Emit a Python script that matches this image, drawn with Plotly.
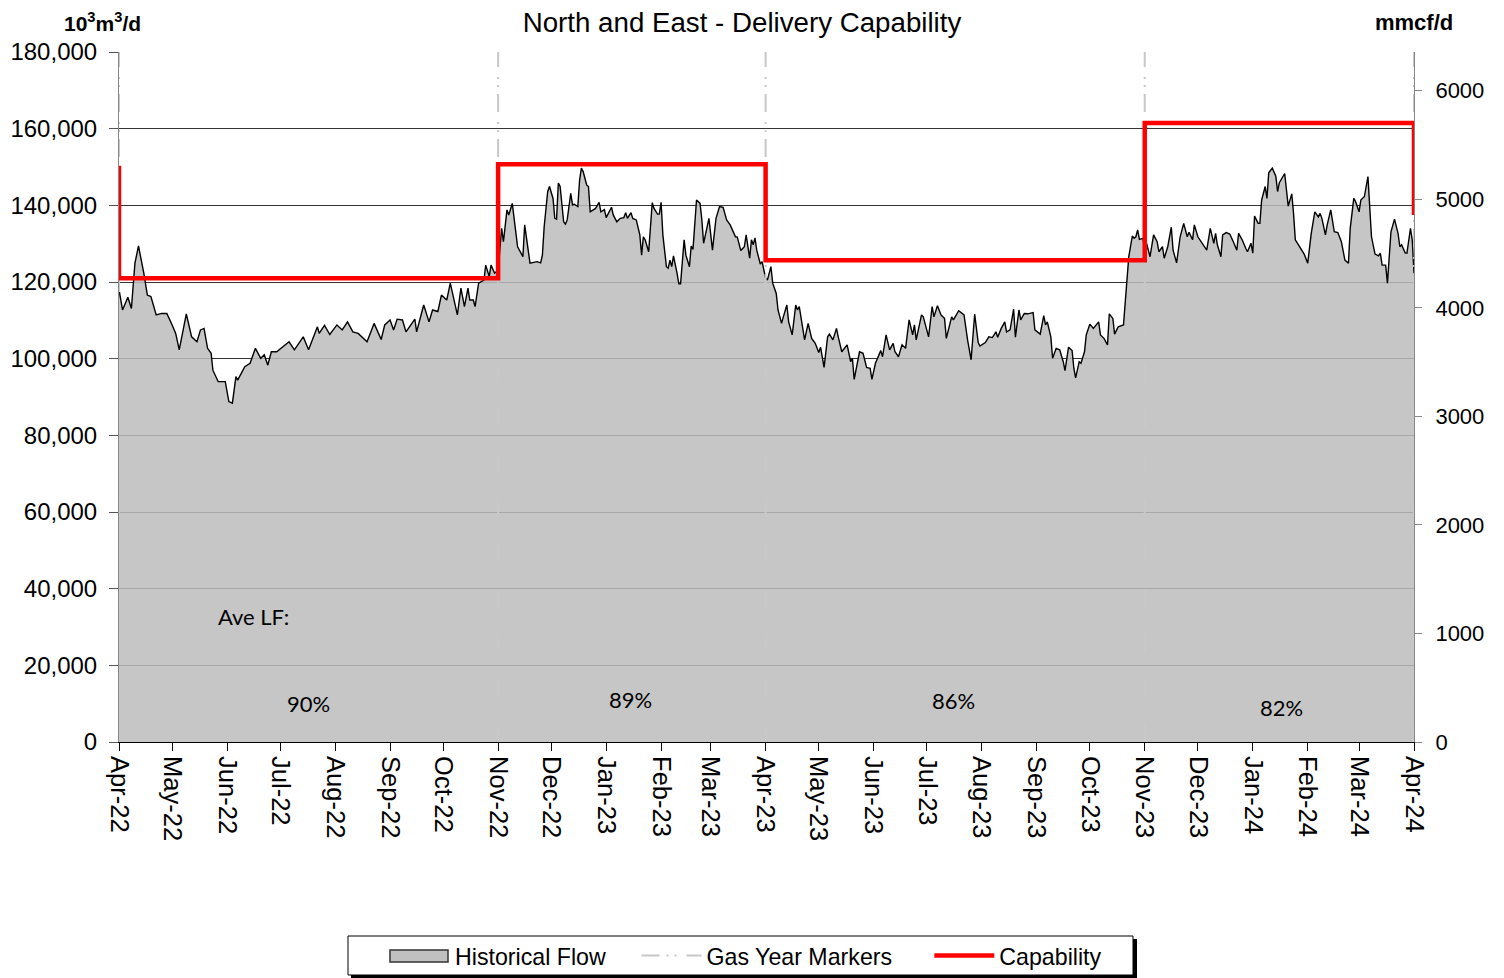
import pandas as pd
import plotly.graph_objects as go

# ---------------- data ----------------
flow_day = [0, 2, 5, 7, 9, 11, 14, 16, 18, 21, 24, 27, 30, 32, 34, 38, 41, 44, 46, 48,
            50, 52, 53, 56, 60, 62, 64, 66, 67, 71, 74, 77, 80, 82, 84, 86, 89, 96, 99, 104,
            107, 112, 113, 116, 119, 123, 126, 129, 132, 135, 140, 144, 148, 150, 153, 155, 157, 160, 162, 167,
            168, 172, 175, 177, 180, 182, 185, 187, 191, 193, 195, 197, 198, 200, 201, 203, 206, 207, 209, 210,
            212, 214, 216, 217, 219, 220, 222, 225, 228, 229, 232, 236, 238, 239, 240, 242, 243, 245, 246, 247,
            248, 249, 251, 252, 253, 255, 256, 257, 259, 260, 261, 262, 264, 265, 266, 269, 271, 272, 274, 275,
            278, 279, 281, 283, 285, 286, 287, 289, 290, 292, 294, 295, 296, 297, 299, 300, 301, 302, 304, 305,
            306, 307, 309, 310, 311, 312, 313, 315, 316, 317, 319, 320, 322, 323, 324, 326, 328, 329, 330, 333,
            335, 337, 339, 341, 343, 345, 348, 349, 351, 353, 354, 356, 357, 358, 359, 360, 362, 363, 365, 366,
            368, 369, 371, 372, 374, 375, 377, 378, 380, 382, 383, 384, 387, 389, 391, 393, 395, 396, 398, 400,
            401, 403, 405, 406, 408, 411, 413, 414, 415, 418, 420, 422, 424, 425, 427, 430, 431, 433, 435, 437,
            438, 440, 442, 444, 446, 448, 449, 450, 453, 454, 457, 459, 460, 462, 464, 466, 467, 470, 471, 474,
            477, 479, 481, 483, 485, 486, 489, 491, 493, 495, 496, 498, 500, 501, 503, 505, 506, 508, 509, 511,
            513, 516, 517, 520, 522, 523, 524, 526, 527, 529, 531, 533, 534, 536, 538, 539, 540, 542, 543, 545,
            546, 548, 550, 553, 554, 556, 558, 559, 561, 562, 564, 567, 568, 569, 570, 572, 573, 574, 575, 576,
            578, 579, 580, 582, 584, 586, 587, 589, 590, 592, 594, 595, 597, 599, 601, 603, 604, 606, 607, 609,
            611, 614, 616, 618, 619, 620, 622, 623, 625, 627, 629, 631, 632, 634, 636, 637, 639, 640, 641, 643,
            644, 645, 647, 648, 649, 650, 651, 653, 654, 655, 658, 660, 662, 663, 664, 667, 669, 671, 673, 675,
            677, 678, 679, 681, 682, 684, 686, 688, 690, 692, 694, 695, 697, 698, 700, 701, 703, 705, 706, 707,
            709, 711, 712, 713, 715, 716, 718, 720, 722, 723, 724, 726, 727, 729, 730, 731]

flow_val = [118000, 112700, 116000, 113100, 124900, 129400, 122300, 116600, 116200, 111400, 111800, 111800, 108800, 106600, 102300, 111700, 105700, 104400, 107500, 107900,
            102700, 101400, 97000, 94000, 94000, 88800, 88400, 95300, 94400, 97900, 98800, 102700, 100100, 101000, 98300, 101800, 101800, 104400, 102300, 105700,
            102300, 108300, 106600, 108700, 106300, 108800, 107500, 109600, 107000, 106600, 104400, 109200, 105000, 108800, 110100, 107500, 110300, 110100, 107000, 110300,
            107000, 114000, 109600, 112700, 112300, 116600, 115300, 119700, 111400, 118400, 113600, 118400, 115300, 115300, 113600, 119700, 120500, 124400, 121400, 124400,
            122300, 123100, 134000, 130500, 138800, 137500, 140500, 129200, 126600, 134900, 124900, 125300, 125000, 127000, 134400, 143600, 144900, 141800, 136600, 136400,
            145800, 144900, 135700, 135100, 136200, 143100, 140100, 140300, 139700, 146600, 149700, 148800, 145300, 144900, 138300, 139200, 140800, 138300, 138900, 136800,
            139500, 137500, 135700, 136600, 136800, 138100, 136600, 138100, 136600, 136200, 132300, 127000, 131800, 131000, 127900, 134400, 140700, 139200, 137700, 137700,
            140800, 132300, 124000, 123600, 125700, 124000, 126800, 122300, 119500, 119500, 131000, 127000, 124000, 129400, 128500, 141400, 140500, 136200, 130100, 136600,
            128300, 136600, 139700, 139500, 136200, 134900, 131800, 131700, 128200, 129200, 132300, 126200, 131000, 129700, 131500, 128300, 124700, 125300, 121000, 120500,
            124000, 119700, 117000, 112700, 109200, 110900, 114000, 109600, 106200, 114000, 112700, 113600, 104900, 109200, 105300, 104000, 101600, 103000, 97700, 105700,
            106400, 104900, 107900, 105700, 101800, 103600, 99200, 100100, 94600, 101800, 101400, 97700, 97500, 94600, 98800, 102100, 100500, 106200, 102300, 104000,
            101800, 100500, 103600, 102700, 110100, 106200, 108800, 104900, 111400, 110900, 105700, 113600, 110900, 113800, 111400, 110500, 105300, 110900, 110100, 112500,
            111400, 104900, 99700, 111600, 104200, 103300, 104200, 105700, 105500, 107000, 105600, 107900, 109600, 107000, 107500, 112900, 105600, 112700, 110100, 111800,
            111700, 112000, 107500, 106400, 111200, 108800, 109600, 105700, 100100, 102700, 102300, 99200, 96900, 103000, 102100, 97500, 95000, 99200, 98800, 101800,
            106200, 109000, 107900, 109600, 106200, 105300, 103600, 111700, 110500, 106400, 108300, 108800, 114900, 119700, 126600, 132000, 131400, 131800, 133600, 131100,
            131400, 128300, 130100, 126600, 132300, 130500, 127900, 129200, 126200, 129200, 134300, 128300, 125000, 131800, 135300, 131800, 133000, 131000, 134900, 131800,
            130500, 128300, 134000, 130100, 132700, 129700, 126600, 132300, 132900, 132500, 130500, 128300, 132700, 131000, 128800, 127900, 130100, 127500, 137200, 135300,
            135300, 141400, 144900, 141800, 148500, 149000, 149700, 147600, 143600, 145900, 148300, 139800, 143000, 137900, 131000, 128800, 127300, 124900, 132700, 138300,
            137000, 137900, 136600, 132300, 134900, 138800, 133100, 132900, 130500, 125700, 124900, 134000, 141800, 141000, 138300, 141400, 142300, 147500, 139700, 131800,
            127300, 126800, 127500, 124400, 124400, 119700, 133100, 136400, 132700, 129200, 129700, 127600, 127500, 134000, 131000, 122300]

start_date = "2022-04-01"

cap_dates = ["2022-04-01", "2022-04-01", "2022-11-01", "2023-04-01", "2023-11-01", "2024-04-01"]
cap_vals = [150300, 121000, 150700, 125700, 161500, 137500]

gas_year_dates = ["2022-04-01", "2022-11-01", "2023-04-01", "2023-11-01", "2024-04-01"]

lf_labels = ["90%", "89%", "86%", "82%"]
lf_dates = ["2022-07-17", "2023-01-15", "2023-07-16", "2024-01-17"]
lf_y = [10170, 10960, 10700, 9130]

M3_PER_MCF = 28.3168
Y_MAX = 180000

# ---------------- helpers: page pixel -> paper coords ----------------
PX0, PX1, PY0, PY1 = 119, 1414, 52, 742   # plot area in page pixels


def pxx(p):
    return (p - PX0) / (PX1 - PX0)


def pxy(p):
    return (PY1 - p) / (PY1 - PY0)


# ---------------- figure ----------------
flow_dates = pd.Timestamp(start_date) + pd.to_timedelta(flow_day, unit="D")
FILL = "rgba(188,188,188,0.853)"

fig = go.Figure()

fig.add_trace(go.Scatter(
    x=flow_dates, y=flow_val, mode="lines", name="Historical Flow",
    line=dict(color="black", width=1.4),
    fill="tozeroy", fillcolor=FILL, showlegend=False,
))
# legend entry for the area (symbol drawn as a shape below)
fig.add_trace(go.Scatter(
    x=[None], y=[None], mode="lines", name="Historical Flow" + "\u00a0" * 4,
    line=dict(color="rgba(0,0,0,0)", width=1), hoverinfo="skip",
))

gx, gy = [], []
for d in gas_year_dates:
    gx += [d, d, None]
    gy += [0, Y_MAX, None]
fig.add_trace(go.Scatter(
    x=gx, y=gy, mode="lines", name="Gas Year Markers" + "\u00a0" * 5,
    line=dict(color="#c8c8c8", width=2, dash="18px,7px,2px,6px,2px,10px"),
))

fig.add_trace(go.Scatter(
    x=cap_dates, y=cap_vals, mode="lines", name="Capability",
    line=dict(color="#ff0000", width=4.5, shape="hv"),
))

# invisible trace for the right axis
fig.add_trace(go.Scatter(x=[start_date], y=[0], yaxis="y2", mode="markers",
                         marker=dict(opacity=0), showlegend=False, hoverinfo="skip"))

for lbl, d, yv in zip(lf_labels, lf_dates, lf_y):
    fig.add_annotation(x=d, y=yv, text=lbl, showarrow=False,
                       font=dict(family="Lato", size=22, color="black"))
fig.add_annotation(x="2022-06-16", y=32870, text="Ave LF:", showarrow=False,
                   xanchor="center", font=dict(family="Lato", size=22, color="black"))

fig.add_annotation(xref="paper", yref="paper", x=pxx(102), y=pxy(22),
                   xanchor="center", yanchor="middle",
                   text="<b>10<sup>3</sup>m<sup>3</sup>/d</b>", showarrow=False,
                   font=dict(family="Liberation Sans", size=21, color="black"))
fig.add_annotation(xref="paper", yref="paper", x=pxx(1414), y=pxy(22),
                   xanchor="center", yanchor="middle",
                   text="<b>mmcf/d</b>", showarrow=False,
                   font=dict(family="Liberation Sans", size=22, color="black"))

# legend frame with shadow
fig.add_shape(type="rect", xref="paper", yref="paper",
              x0=pxx(351), x1=pxx(1137), y0=pxy(978), y1=pxy(939),
              fillcolor="black", line=dict(width=0), layer="above")
fig.add_shape(type="rect", xref="paper", yref="paper",
              x0=pxx(348), x1=pxx(1133), y0=pxy(975), y1=pxy(936),
              fillcolor="white", line=dict(color="black", width=1), layer="above")
# legend symbol for the historical flow area
fig.add_shape(type="rect", xref="paper", yref="paper",
              x0=pxx(390), x1=pxx(448), y0=pxy(962), y1=pxy(950),
              fillcolor="#c0c0c0", line=dict(color="#333333", width=1.5), layer="above")

fig.update_layout(
    width=1496, height=970,
    margin=dict(l=111, r=90, t=44, b=236),
    paper_bgcolor="white", plot_bgcolor="white",
    font=dict(family="Liberation Sans", color="black"),
    title=dict(text="North and East - Delivery Capability", x=734 / 1496, xanchor="center",
               y=1 - 14 / 970, yanchor="middle", yref="container",
               font=dict(family="Liberation Sans", size=27.7, color="black")),
    showlegend=True,
    legend=dict(orientation="h", xref="container", yref="container",
                x=377 / 1496, xanchor="left", y=1 - 948 / 970, yanchor="middle",
                bgcolor="rgba(0,0,0,0)", borderwidth=0,
                font=dict(family="Liberation Sans", size=23.2, color="black"),
                itemwidth=60),
    xaxis=dict(type="date", range=["2022-04-01", "2024-04-01"],
               tickmode="linear", tick0="2022-04-01", dtick="M1", tickformat="%b-%y",
               tickangle=90, ticks="outside", ticklen=8, tickcolor="black",
               tickfont=dict(size=25.5), showgrid=False, automargin=False,
               showline=True, linecolor="black", linewidth=1, zeroline=False),
    yaxis=dict(range=[0, Y_MAX], dtick=20000, tickformat=",", ticks="outside", ticklen=9,
               ticklabelstandoff=7,
               tickcolor="#555", tickfont=dict(size=24), showgrid=True, gridcolor="#333333",
               gridwidth=1, showline=True, linecolor="#888888", zeroline=False, automargin=False),
    yaxis2=dict(overlaying="y", side="right", range=[0, Y_MAX / M3_PER_MCF], dtick=1000,
                tickformat="d", ticks="outside", ticklen=7, tickcolor="#888",
                ticklabelstandoff=9,
                tickfont=dict(size=22), showgrid=False, showline=True, linecolor="#888888",
                zeroline=False, automargin=False),
)

fig.write_html("out.html")
